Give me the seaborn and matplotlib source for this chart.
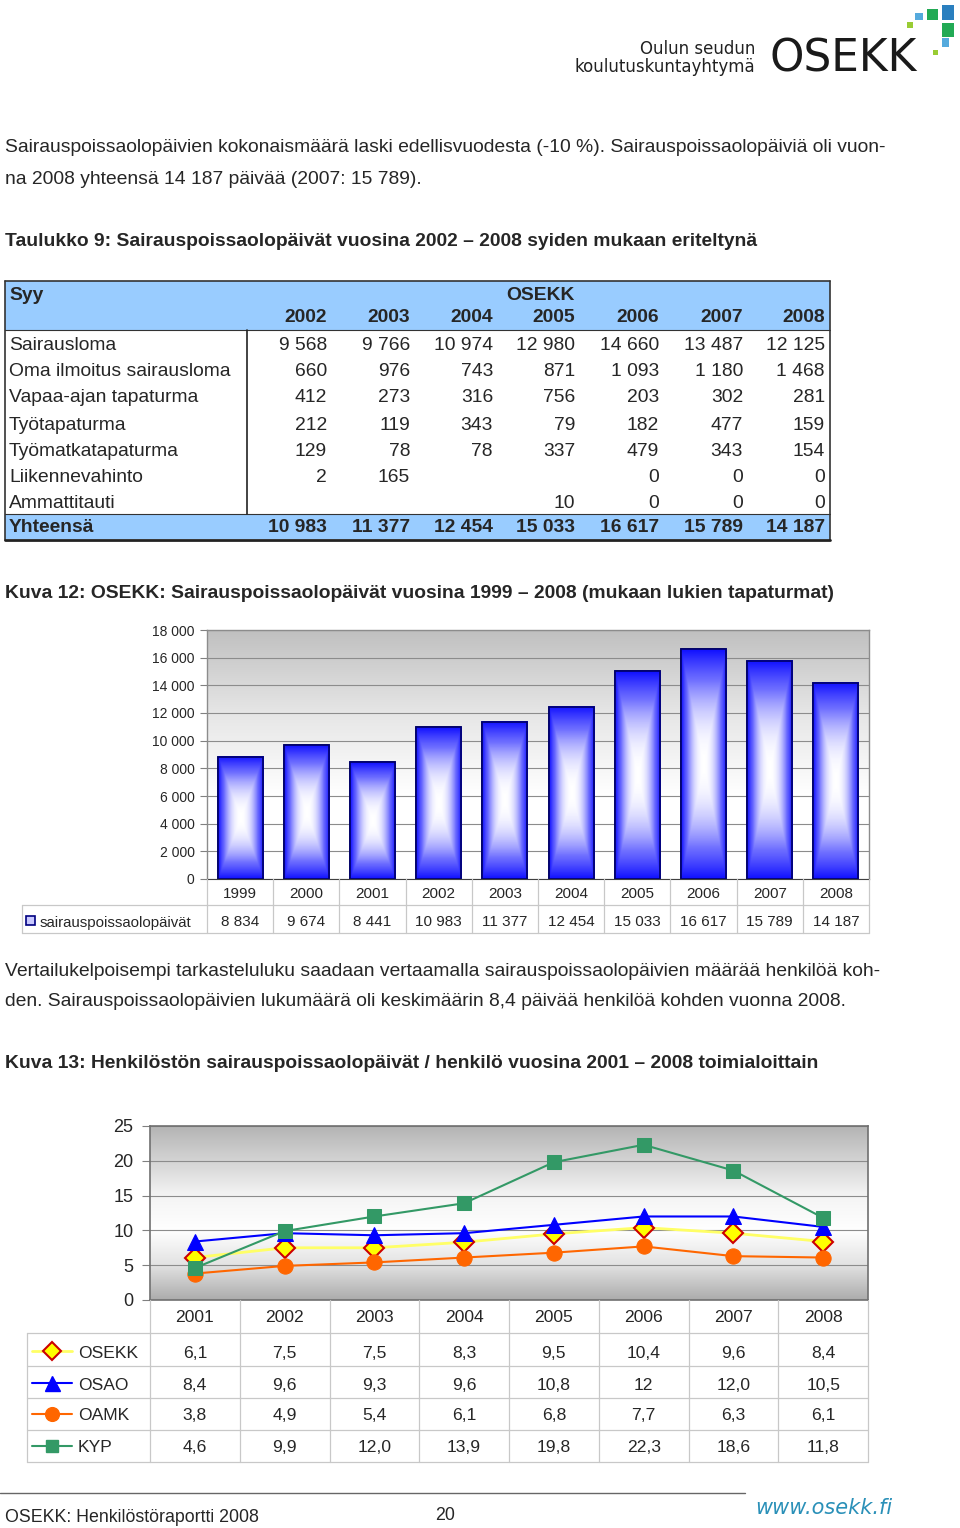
import numpy as np
import pandas as pd
import matplotlib
matplotlib.use("Agg")
import matplotlib.pyplot as plt
import seaborn as sns
from matplotlib.colors import LinearSegmentedColormap
from matplotlib.patches import Rectangle

# --- taulukko 9 ---
syyt = ["Sairausloma", "Oma ilmoitus sairausloma", "Vapaa-ajan tapaturma",
        "Työtapaturma", "Työmatkatapaturma", "Liikennevahinto", "Ammattitauti"]
taulu_vuodet = [2002, 2003, 2004, 2005, 2006, 2007, 2008]
sairausloma = [9568, 9766, 10974, 12980, 14660, 13487, 12125]
oma_ilmoitus = [660, 976, 743, 871, 1093, 1180, 1468]
vapaa_ajan = [412, 273, 316, 756, 203, 302, 281]
tyotapaturma = [212, 119, 343, 79, 182, 477, 159]
tyomatka = [129, 78, 78, 337, 479, 343, 154]
liikenne = [2, 165, None, None, 0, 0, 0]
ammattitauti = [None, None, None, 10, 0, 0, 0]
yhteensa = [10983, 11377, 12454, 15033, 16617, 15789, 14187]

# --- kuva 12 ---
bar_vuodet = ["1999", "2000", "2001", "2002", "2003", "2004", "2005", "2006", "2007", "2008"]
bar_paivat = [8834, 9674, 8441, 10983, 11377, 12454, 15033, 16617, 15789, 14187]

# --- kuva 13 ---
line_vuodet = ["2001", "2002", "2003", "2004", "2005", "2006", "2007", "2008"]
osekk = [6.1, 7.5, 7.5, 8.3, 9.5, 10.4, 9.6, 8.4]
osao = [8.4, 9.6, 9.3, 9.6, 10.8, 12, 12.0, 10.5]
oamk = [3.8, 4.9, 5.4, 6.1, 6.8, 7.7, 6.3, 6.1]
kyp = [4.6, 9.9, 12.0, 13.9, 19.8, 22.3, 18.6, 11.8]

sns.set_style("white")
plt.rcParams['font.family'] = ['Liberation Sans', 'DejaVu Sans']

W, H = 960, 1528
fig = plt.figure(figsize=(9.6, 15.28), dpi=100)


def box(x, y, w, h):
    return [x / W, 1 - (y + h) / H, w / W, h / H]


def fmt(v):
    if v is None:
        return ""
    return f"{v:,}".replace(",", " ")


def fmt_dec(v):
    if isinstance(v, int):
        return str(v)
    return f"{v:.1f}".replace(".", ",")


ax0 = fig.add_axes([0, 0, 1, 1], zorder=10)
ax0.set_xlim(0, W)
ax0.set_ylim(H, 0)
ax0.axis("off")
ax0.patch.set_alpha(0)

TXT = 13.85
DY = 2  # va=center nostaa tekstiä hieman


def teksti(x, y, s, **kw):
    kw.setdefault("va", "center")
    ax0.text(x, y + DY, s, **kw)


# logo
teksti(755, 47, "Oulun seudun", ha="right", fontsize=12, family="DejaVu Sans", color="#222222")
teksti(755, 65, "koulutuskuntayhtymä", ha="right", fontsize=12, family="DejaVu Sans", color="#222222")
ax0.text(769, 72, "OSEKK", ha="left", va="baseline", fontsize=31.5,
         family="DejaVu Sans", color="#1a1a1a")
for (x, y, w, h, c) in [(915, 13, 8, 7, "#55aadd"), (927, 9, 11, 11, "#22aa55"),
                        (942, 5, 12, 15, "#2a7fbf"), (907, 22, 6, 6, "#99cc33"),
                        (942, 23, 12, 14, "#22aa55"), (942, 38, 7, 9, "#55aadd"),
                        (933, 50, 5, 5, "#99cc33")]:
    ax0.add_patch(Rectangle((x, y), w, h, color=c, lw=0))

# leipäteksti
teksti(5, 146, "Sairauspoissaolopäivien kokonaismäärä laski edellisvuodesta (-10 %). "
       "Sairauspoissaolopäiviä oli vuon-", fontsize=TXT)
teksti(5, 177, "na 2008 yhteensä 14 187 päivää (2007: 15 789).", fontsize=TXT)
teksti(5, 239, "Taulukko 9: Sairauspoissaolopäivät vuosina 2002 – 2008 syiden mukaan eriteltynä",
       fontsize=TXT, weight="bold")

# taulukko
blue = "#99ccff"
ax0.add_patch(Rectangle((5, 281), 825, 49, color=blue, lw=0))
ax0.add_patch(Rectangle((5, 514), 825, 25, color=blue, lw=0))
ax0.plot([5, 830], [281, 281], color="#333333", lw=1.2)
ax0.plot([5, 5], [281, 540], color="#333333", lw=1.2)
ax0.plot([830, 830], [281, 540], color="#333333", lw=1.2)
ax0.plot([5, 830], [539.5, 539.5], color="#222222", lw=2)
ax0.plot([5, 830], [330, 330], color="#333333", lw=0.8)
ax0.plot([5, 830], [514, 514], color="#333333", lw=0.8)
ax0.plot([247, 247], [330, 514], color="#222222", lw=1.2)

col_r = [327, 410, 493, 575, 659, 743, 825]
teksti(9, 293, "Syy", fontsize=TXT, weight="bold")
teksti(col_r[3], 293, "OSEKK", fontsize=TXT, weight="bold", ha="right")
for cx, yr in zip(col_r, taulu_vuodet):
    teksti(cx, 316, str(yr), fontsize=TXT, weight="bold", ha="right")

rivit = [sairausloma, oma_ilmoitus, vapaa_ajan, tyotapaturma, tyomatka, liikenne, ammattitauti]
row_y = [343, 370, 396, 423, 450, 476, 502]
for ry, nimi, arvot in zip(row_y, syyt, rivit):
    teksti(9, ry, nimi, fontsize=TXT)
    for cx, v in zip(col_r, arvot):
        teksti(cx, ry, fmt(v), fontsize=TXT, ha="right")
teksti(9, 525, "Yhteensä", fontsize=TXT, weight="bold")
for cx, v in zip(col_r, yhteensa):
    teksti(cx, 525, fmt(v), fontsize=TXT, weight="bold", ha="right")

teksti(5, 591, "Kuva 12: OSEKK: Sairauspoissaolopäivät vuosina 1999 – 2008 (mukaan lukien tapaturmat)",
       fontsize=TXT, weight="bold")

# --- pylväskaavio ---
bx, by, bw, bh = 207, 630, 662, 249
axb = fig.add_axes(box(bx, by, bw, bh))
bg = np.linspace(0, 1, 256)[:, None]
bg_cmap = LinearSegmentedColormap.from_list("bg", ["#ffffff", "#ffffff", "#e6e6e6", "#c0c0c0"])
axb.imshow(bg, cmap=bg_cmap, extent=(0, 1, 0, 1), transform=axb.transAxes,
           aspect="auto", origin="lower", zorder=0)
sns.barplot(x=bar_vuodet, y=bar_paivat, color="#2020ff", width=0.68,
            edgecolor="#000066", linewidth=1.2, ax=axb, zorder=1)

bar_cmap = LinearSegmentedColormap.from_list("bar", ["#ffffff", "#7070ff", "#1010ff"])
uu = np.abs(np.linspace(-1, 1, 60))
vv = np.abs(np.linspace(-1, 1, 200))
tt = np.maximum(uu[None, :], vv[:, None]) ** 2.2
for p in list(axb.patches):
    x0, w, h = p.get_x(), p.get_width(), p.get_height()
    axb.imshow(tt, cmap=bar_cmap, vmin=0, vmax=1, extent=(x0, x0 + w, 0, h),
               aspect="auto", zorder=1.5, interpolation="bilinear")
    axb.add_patch(Rectangle((x0, 0), w, h, fill=False, edgecolor="#000066", lw=1.2, zorder=2))

axb.set_xlim(-0.5, len(bar_vuodet) - 0.5)
axb.set_ylim(0, 18000)
axb.set_yticks(range(0, 18001, 2000))
axb.set_yticklabels([fmt(v) for v in range(0, 18001, 2000)])
axb.set_xticks([])
axb.set_xlabel("")
axb.set_axisbelow(True)
axb.yaxis.grid(True, color="#8c8c8c", lw=0.8)
axb.tick_params(axis="y", left=True, length=5, width=0.8, color="#808080", labelsize=10, pad=4)
for s in ["top", "right", "left"]:
    axb.spines[s].set_color("#8c8c8c")
    axb.spines[s].set_linewidth(1)
axb.spines["bottom"].set_color("#404040")

# taulukko kaavion alla
colw = bw / len(bar_vuodet)
grid_c = "#c8c8c8"
for k in range(len(bar_vuodet) + 1):
    ax0.plot([bx + k * colw] * 2, [879, 933], color=grid_c, lw=0.9)
ax0.plot([22, bx + bw], [905, 905], color=grid_c, lw=0.9)
ax0.plot([22, bx + bw], [933, 933], color=grid_c, lw=0.9)
ax0.plot([22, 22], [905, 933], color=grid_c, lw=0.9)
for i, (yr, v) in enumerate(zip(bar_vuodet, bar_paivat)):
    cx = bx + (i + 0.5) * colw
    teksti(cx, 892, yr, fontsize=11, ha="center")
    teksti(cx, 920, fmt(v), fontsize=11, ha="center")
ax0.add_patch(Rectangle((26, 916), 9, 9, facecolor="#c8c8ff", edgecolor="#000080", lw=1.2))
teksti(40, 920.5, "sairauspoissaolopäivät", fontsize=10.8)

teksti(5, 970, "Vertailukelpoisempi tarkasteluluku saadaan vertaamalla sairauspoissaolopäivien "
       "määrää henkilöä koh-", fontsize=TXT)
teksti(5, 1000, "den. Sairauspoissaolopäivien lukumäärä oli keskimäärin 8,4 päivää henkilöä "
       "kohden vuonna 2008.", fontsize=TXT)
teksti(5, 1062, "Kuva 13: Henkilöstön sairauspoissaolopäivät / henkilö vuosina 2001 – 2008 toimialoittain",
       fontsize=TXT, weight="bold")

# --- viivakaavio ---
lx, ly, lw_, lh = 150, 1126, 718, 174
axl = fig.add_axes(box(lx, ly, lw_, lh))
bg2_cmap = LinearSegmentedColormap.from_list(
    "bg2", [(0, "#acacac"), (0.2, "#e2e2e2"), (0.4, "#ffffff"), (0.6, "#f4f4f4"), (1, "#b4b4b4")])
axl.imshow(bg, cmap=bg2_cmap, extent=(0, 1, 0, 1), transform=axl.transAxes,
           aspect="auto", origin="lower", zorder=0)

sarjat = [
    ("OSEKK", osekk, dict(color="#ffff66", marker="D", markersize=10, markerfacecolor="#ffff00",
                          markeredgecolor="#cc0000", markeredgewidth=1.5, lw=2)),
    ("OSAO", osao, dict(color="#0000ff", marker="^", markersize=12, markerfacecolor="#0000ff",
                        markeredgecolor="#0000ff", lw=1.5)),
    ("OAMK", oamk, dict(color="#ff6600", marker="o", markersize=11, markerfacecolor="#ff6600",
                        markeredgecolor="#ff6600", lw=1.5)),
    ("KYP", kyp, dict(color="#339966", marker="s", markersize=10, markerfacecolor="#339966",
                      markeredgecolor="#339966", lw=1.5)),
]
xs = np.arange(len(line_vuodet))
piirto = [2, 0, 1, 3]
for j in piirto:
    nimi, arvot, tyyli = sarjat[j]
    sns.lineplot(x=xs, y=np.array(arvot, dtype=float), ax=axl, zorder=3 + j, **tyyli)

axl.set_xlim(-0.5, len(line_vuodet) - 0.5)
axl.set_ylim(0, 25)
axl.set_yticks(range(0, 26, 5))
axl.set_xticks([])
axl.set_axisbelow(True)
axl.yaxis.grid(True, color="#8c8c8c", lw=0.8)
axl.tick_params(axis="y", left=True, length=6, width=0.8, color="#808080", labelsize=13, pad=6)
for s in axl.spines.values():
    s.set_color("#707070")
    s.set_linewidth(1.2)

colw2 = lw_ / len(line_vuodet)
for k in range(len(line_vuodet) + 1):
    ax0.plot([lx + k * colw2] * 2, [1300, 1462], color=grid_c, lw=0.9)
for yy in [1333, 1366, 1398, 1430, 1462]:
    ax0.plot([27, lx + lw_], [yy, yy], color=grid_c, lw=0.9)
ax0.plot([27, 27], [1333, 1462], color=grid_c, lw=0.9)
for i, yr in enumerate(line_vuodet):
    teksti(lx + (i + 0.5) * colw2, 1316, yr, fontsize=12.6, ha="center")
rivi_y = [1351, 1383, 1414, 1446]
for ry, (nimi, arvot, tyyli) in zip(rivi_y, sarjat):
    ax0.plot([32, 72], [ry, ry], color=tyyli["color"], lw=tyyli["lw"])
    ax0.plot([52], [ry], marker=tyyli["marker"], markersize=tyyli["markersize"] * 0.9,
             markerfacecolor=tyyli["markerfacecolor"], markeredgecolor=tyyli["markeredgecolor"],
             markeredgewidth=tyyli.get("markeredgewidth", 1))
    teksti(78, ry, nimi, fontsize=12.6)
    for i, v in enumerate(arvot):
        teksti(lx + (i + 0.5) * colw2, ry, fmt_dec(v), fontsize=12.6, ha="center")

# alatunniste
ax0.plot([0, 745], [1493, 1493], color="#666666", lw=1)
teksti(5, 1515, "OSEKK: Henkilöstöraportti 2008", fontsize=12.8)
teksti(445, 1513, "20", fontsize=12.8, ha="center")
teksti(755, 1506, "www.osekk.fi", fontsize=15, style="italic", family="DejaVu Sans", color="#2a90b8")

fig.savefig("out.png", dpi=100)
